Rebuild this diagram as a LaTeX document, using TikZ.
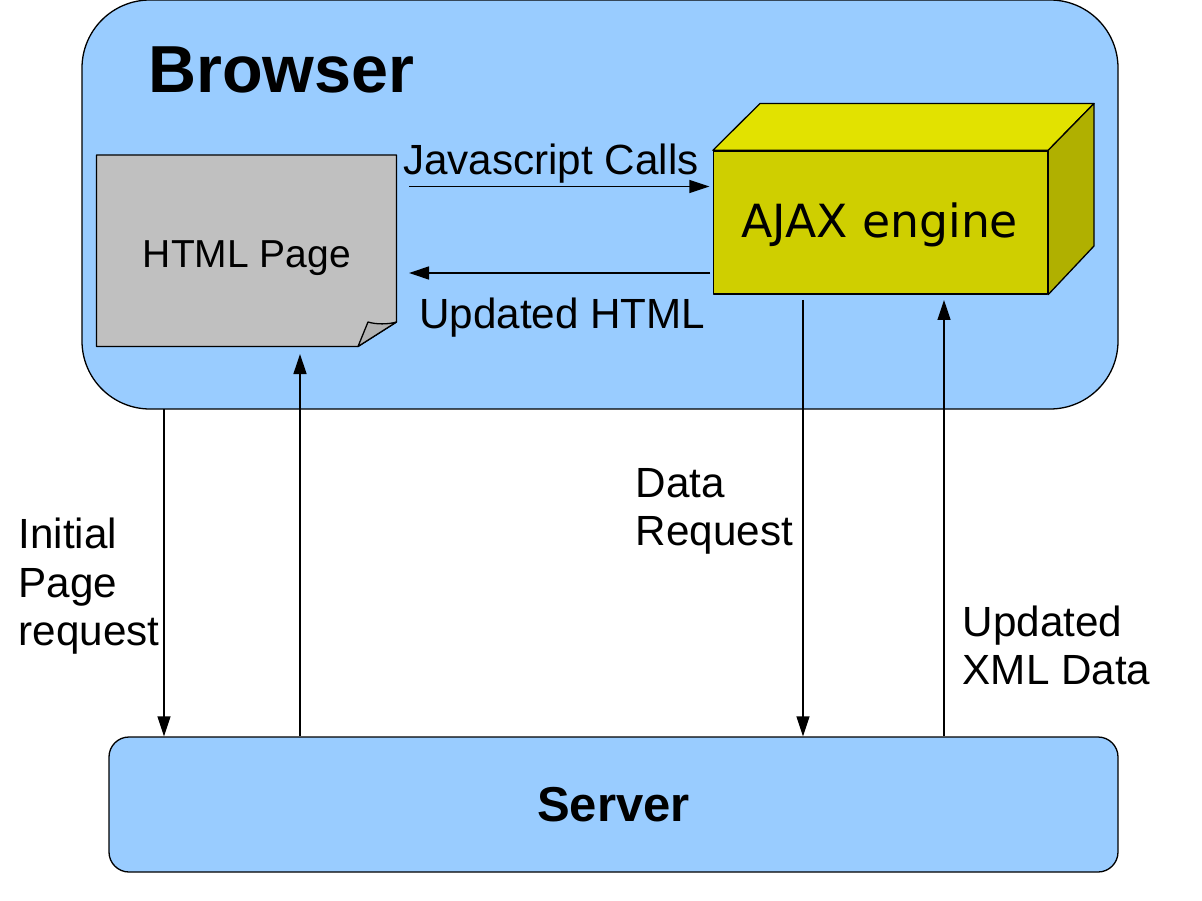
\documentclass[tikz,border=0pt]{standalone}
\usepackage{fontspec}
\setmainfont{Liberation Sans}
\newfontfamily\ajaxfont{DejaVu Sans}
\usetikzlibrary{arrows.meta}
\definecolor{panelblue}{HTML}{99CCFF}
\definecolor{pagegrey}{HTML}{C0C0C0}
\definecolor{foldgrey}{HTML}{B2B2B2}
\definecolor{cubefront}{HTML}{CFCF00}
\definecolor{cubetop}{HTML}{E2E200}
\definecolor{cubeside}{HTML}{B0B000}
\tikzset{
    outline/.style={draw=black, line width=1.3pt, line join=round},
    panel/.style={outline, fill=panelblue, inner sep=0pt},
    flow/.style={line width=1.3pt, -{Triangle[length=20pt, width=13pt]}},
    caption/.style={inner sep=0pt, anchor=base west, align=left, font=\fontsize{42.2}{48.5}\selectfont},
}

\begin{document}
\begin{tikzpicture}[x=1pt, y=-1pt]
    \useasboundingbox (0,0) rectangle (1202,901);

    \node (browser) [panel, rounded corners=68pt, minimum width=1036pt, minimum height=409pt] at (600,204.5) {};
    \node (server) [panel, rounded corners=20pt, minimum width=1009pt, minimum height=135pt,
        font=\fontsize{49}{55}\selectfont\bfseries] at (613.5,804.5) {Server};
    \node (browsertitle) [caption, font=\fontsize{66.5}{70}\selectfont\bfseries] at (148,93) {Browser};

    % the page with its turned corner
    \coordinate (pagefold) at (358,346.5);
    \coordinate (pageedge) at (396.5,322);
    \draw[outline, fill=pagegrey] (96.5,155) -- (396.5,155) -- (pageedge) -- (pagefold) -- (96.5,346.5) -- cycle;
    \draw[outline, fill=foldgrey] (pagefold) -- (368,322) .. controls (376,324.5) and (388,324.5) .. (pageedge) -- cycle;
    \node (page) [caption, anchor=base, font=\fontsize{39}{48}\selectfont] at (247,268) {HTML Page};

    % the box of the engine
    \node (ajax) [outline, fill=cubefront, inner sep=0pt, minimum width=334pt, minimum height=143pt] at (880.5,222.5) {};
    \draw[outline, fill=cubetop] (ajax.north west) -- (760,103.5) -- (1094,103.5) -- (ajax.north east) -- cycle;
    \draw[outline, fill=cubeside] (ajax.north east) -- (1094,103.5) -- (1094,246) -- (ajax.south east) -- cycle;
    \node (ajaxtitle) [caption, font=\fontsize{45.7}{50}\selectfont\ajaxfont] at (741,237.5) {AJAX engine};

    \coordinate (callstart) at (409,186.5);
    \coordinate (htmlstart) at (710,273);
    \coordinate (initialtop) at (164,409);
    \coordinate (pagefoot) at (300,354);
    \coordinate (requesttop) at (803,300);
    \coordinate (datafoot) at (944,300);

    \draw[flow, shorten >=3.5pt] (callstart) -- (callstart -| ajax.west);
    \draw[flow] (htmlstart) -- (htmlstart -| callstart);
    \draw[flow] (initialtop) -- (initialtop |- server.north);
    \draw[flow] (pagefoot |- server.north) -- (pagefoot);
    \draw[flow] (requesttop) -- (requesttop |- server.north);
    \draw[flow] (datafoot |- server.north) -- (datafoot);

    % several lines: the base anchor sits on the last one
    \node (calls) [caption] at (403,175) {Javascript Calls};
    \node (updatedhtml) [caption] at (419,328) {Updated HTML};
    \node (initial) [caption] at (18.5,645.5) {Initial\\Page\\request};
    \node (request) [caption] at (635.5,545.5) {Data\\Request};
    \node (updatedxml) [caption] at (962.5,684.5) {Updated\\XML Data};
\end{tikzpicture}
\end{document}
